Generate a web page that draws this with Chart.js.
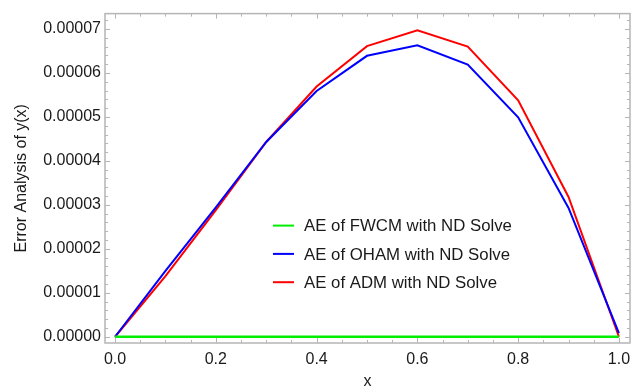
<!DOCTYPE html>
<html>
<head>
<meta charset="utf-8">
<script src="https://cdn.jsdelivr.net/npm/chart.js@4.4.1/dist/chart.umd.min.js"></script>
<style>
  html, body { margin: 0; padding: 0; background: #fff; }
  #wrap { width: 641px; height: 388px; }
</style>
</head>
<body>
<div id="wrap"><canvas id="chart" width="641" height="388"></canvas></div>
<script>
var xValues = [0.0, 0.1, 0.2, 0.3, 0.4, 0.5, 0.6, 0.7, 0.8, 0.9, 1.0];
var fwcmError = [0, 0, 0, 0, 0, 0, 0, 0, 0, 0, 0];
var ohamError = [0, 1.50e-5, 2.94e-5, 4.43e-5, 5.59e-5, 6.39e-5, 6.63e-5, 6.19e-5, 4.99e-5, 2.93e-5, 0.08e-5];
var admError = [0, 1.38e-5, 2.88e-5, 4.43e-5, 5.69e-5, 6.61e-5, 6.97e-5, 6.60e-5, 5.38e-5, 3.18e-5, 0];
var xTicks = [0.0, 0.2, 0.4, 0.6, 0.8, 1.0];
var yTicks = [0, 1e-5, 2e-5, 3e-5, 4e-5, 5e-5, 6e-5, 7e-5];

var toPoints = function (ys) {
    return xValues.map(function (x, i) { return { x: x, y: ys[i] }; });
};

var frameColor = "#b5b5b5";
var fontFamily = "'Liberation Sans', Arial, sans-serif";

// frame, inward ticks on all four sides
var framePlugin = {
    id: "frame",
    beforeDatasetsDraw: function (chart) {
        var ctx = chart.ctx, a = chart.chartArea;
        var xs = chart.scales.x, ys = chart.scales.y;
        ctx.save();
        ctx.strokeStyle = frameColor;
        ctx.lineWidth = 1;
        ctx.beginPath();
        var xMinor = [];
        for (var i = 0; i <= 20; i++) xMinor.push(i * 0.05);
        var yMinor = [];
        for (var j = 0; j <= 36; j++) yMinor.push(j * 0.2e-5);
        xMinor.forEach(function (v) {
            var major = Math.abs(v * 5 - Math.round(v * 5)) < 1e-9;
            var len = major ? 5 : 3;
            var px = Math.round(xs.getPixelForValue(v)) + 0.5;
            ctx.moveTo(px, a.bottom); ctx.lineTo(px, a.bottom - len);
            ctx.moveTo(px, a.top); ctx.lineTo(px, a.top + len);
        });
        yMinor.forEach(function (v) {
            var k = v / 1e-5;
            var major = Math.abs(k - Math.round(k)) < 1e-6;
            var len = major ? 5 : 3;
            var py = Math.round(ys.getPixelForValue(v)) + 0.5;
            if (py < a.top || py > a.bottom) return;
            ctx.moveTo(a.left, py); ctx.lineTo(a.left + len, py);
            ctx.moveTo(a.right, py); ctx.lineTo(a.right - len, py);
        });
        ctx.stroke();
        ctx.lineWidth = 1.5;
        ctx.strokeRect(a.left, a.top, a.right - a.left, a.bottom - a.top);
        ctx.restore();
    }
};

// legend drawn inside the plot
var insideLegend = {
    id: "insideLegend",
    afterDatasetsDraw: function (chart) {
        var ctx = chart.ctx, a = chart.chartArea;
        var x0 = a.left + 168, y0 = a.top + 212, step = 28.3;
        ctx.save();
        ctx.font = "16.8px " + fontFamily;
        ctx.textBaseline = "middle";
        ctx.fillStyle = "#1a1a1a";
        chart.data.datasets.forEach(function (ds, i) {
            var y = y0 + i * step;
            ctx.strokeStyle = ds.borderColor;
            ctx.lineWidth = 2;
            ctx.beginPath();
            ctx.moveTo(x0, y); ctx.lineTo(x0 + 21, y);
            ctx.stroke();
            ctx.fillText(ds.label, x0 + 31, y + 1);
        });
        ctx.restore();
    }
};

new Chart(document.getElementById("chart"), {
    type: "line",
    data: {
        datasets: [
            { label: "AE of FWCM with ND Solve", data: toPoints(fwcmError), borderColor: "#00ee00", borderWidth: 2.5 },
            { label: "AE of OHAM with ND Solve", data: toPoints(ohamError), borderColor: "#0000ff", borderWidth: 2 },
            { label: "AE of ADM with ND Solve", data: toPoints(admError), borderColor: "#ff0000", borderWidth: 2 }
        ]
    },
    options: {
        responsive: false,
        animation: false,
        devicePixelRatio: 1,
        layout: { padding: { top: 10, right: 11, left: 0, bottom: 0 } },
        elements: { point: { radius: 0 }, line: { tension: 0 } },
        plugins: { legend: { display: false }, tooltip: { enabled: false } },
        scales: {
            x: {
                type: "linear",
                min: -0.02,
                max: 1.022,
                grid: { display: false, drawTicks: false },
                border: { display: false },
                afterBuildTicks: function (scale) {
                    scale.ticks = xTicks.map(function (v) { return { value: v }; });
                },
                afterFit: function (scale) { scale.height = 45; },
                ticks: {
                    padding: 7,
                    maxRotation: 0,
                    color: "#1a1a1a",
                    font: { family: fontFamily, size: 16 },
                    callback: function (v) { return Number(v).toFixed(1); }
                },
                title: {
                    display: true,
                    text: "x",
                    color: "#1a1a1a",
                    font: { family: fontFamily, size: 16 },
                    padding: { top: 0, bottom: -3 }
                }
            },
            y: {
                min: -1.42e-6,
                max: 7.35e-5,
                grid: { display: false, drawTicks: false },
                border: { display: false },
                afterBuildTicks: function (scale) {
                    scale.ticks = yTicks.map(function (v) { return { value: v }; });
                },
                afterFit: function (scale) { scale.width = 105; },
                ticks: {
                    padding: 4,
                    color: "#1a1a1a",
                    font: { family: fontFamily, size: 16 },
                    callback: function (v) { return Number(v).toFixed(5); }
                },
                title: {
                    display: true,
                    text: "Error Analysis of y(x)",
                    color: "#1a1a1a",
                    font: { family: fontFamily, size: 16 },
                    padding: { top: 12, bottom: 0 }
                }
            }
        }
    },
    plugins: [framePlugin, insideLegend]
});
</script>
</body>
</html>
